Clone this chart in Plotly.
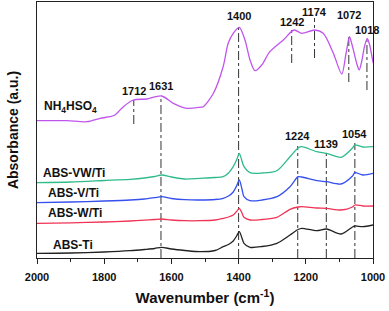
import plotly.graph_objects as go

# ---- data (wavenumber in cm-1, absorbance in arbitrary offset units) ----
nh4_w = [2000, 1911, 1851, 1812, 1783, 1768, 1743, 1713, 1674, 1629, 1594, 1554, 1515, 1505,
         1475, 1446, 1431, 1416, 1398, 1381, 1366, 1351, 1331, 1307, 1267, 1235, 1212, 1173,
         1148, 1118, 1093, 1080, 1070, 1063, 1056, 1048, 1041, 1034, 1025, 1017, 1010, 1004, 999]
nh4_a = [137.3, 137.3, 136.3, 139.7, 141.3, 143, 151.3, 158, 159, 162, 154.7, 149.7, 150.7, 151.3,
         164.7, 191.3, 214.7, 224.7, 230.7, 218, 198, 187.3, 193, 206.3, 218, 228, 224.7, 228,
         224.7, 204.7, 184, 205, 221.3, 214, 204.7, 194, 188, 196, 212, 219.7, 213, 203, 194.7]

abs_w = [2000, 1900, 1800, 1723, 1680, 1650, 1629, 1600, 1560, 1515, 1470, 1446, 1430, 1416,
         1406, 1398, 1390, 1384, 1366, 1330, 1286, 1247, 1223, 1212, 1167, 1138, 1095, 1061,
         1054, 1030, 1000]
vw_ti = [75.3, 76, 77.5, 78.7, 80, 81.5, 83, 81, 79, 79.7, 80.5, 81.3, 85, 91.3,
         98, 104.7, 97, 91.3, 85.3, 85, 87.3, 101.3, 110, 111.3, 106.3, 104.7, 100.7, 110,
         113, 111, 111.3]
v_ti = [55.3, 56, 57, 58, 59, 60.3, 61.3, 59.5, 58.3, 58, 58.5, 59.7, 62, 66,
        72, 78, 69, 61.3, 57.3, 58, 61.3, 71.3, 81.3, 81, 77.3, 76.3, 74, 82,
        85.3, 83, 84.7]
w_ti = [34.7, 35.2, 36, 37, 37.8, 38.5, 39, 38, 37.3, 37.3, 38, 39.7, 41, 43,
        46.5, 49.7, 45, 40.7, 38, 38.5, 40.7, 48.7, 51, 51.3, 50, 49.7, 48, 51,
        53, 52, 52]
ti = [4.7, 5, 6, 7.3, 8.5, 9.5, 10.7, 9, 7.5, 6.3, 7.5, 11.3, 13.5, 17,
      22, 26.3, 20, 14.7, 10.7, 11.5, 14.7, 23, 28.5, 29.7, 27.3, 29, 24, 31,
      32, 31.3, 33]

series_names = ["NH<sub>4</sub>HSO<sub>4</sub>", "ABS-VW/Ti", "ABS-V/Ti", "ABS-W/Ti", "ABS-Ti"]

# peak labels (wavenumber) and their annotation heights
peak_labels = [1712, 1631, 1400, 1242, 1174, 1072, 1018, 1224, 1139, 1054]
peak_label_y = [167, 172, 242, 236, 246, 243, 228, 122, 114, 124]
# dash-dot guide line extents (top, bottom)
guide_top = [158, 162, 231, 228, 240, 223, 220, 112, 108, 115]
guide_bot = [134, 0, 0, 195, 200, 176, 168, 0, 0, 0]

x_ticks = [2000, 1800, 1600, 1400, 1200, 1000]

# ---- figure ----
colors = ["#c055ee", "#30bb8a", "#3550ee", "#f03355", "#222222"]
fig = go.Figure()

# guide lines
for w, t, b in zip(peak_labels, guide_top, guide_bot):
    fig.add_trace(go.Scatter(x=[w, w], y=[b, t], mode="lines",
                             line=dict(color="#333333", width=1, dash="dashdot"),
                             hoverinfo="skip", showlegend=False))

for xs, ys, c in zip([nh4_w, abs_w, abs_w, abs_w, abs_w],
                     [nh4_a, vw_ti, v_ti, w_ti, ti], colors):
    fig.add_trace(go.Scatter(x=xs, y=ys, mode="lines", line=dict(color=c, width=1.3, shape="spline",
                                                                   smoothing=0.8),
                             showlegend=False))

annos = []
for w, y in zip(peak_labels, peak_label_y):
    annos.append(dict(x=w, y=y, text="<b>%d</b>" % w, showarrow=False,
                      font=dict(size=11, color="#111111", family="Liberation Sans")))

name_pos = [(1899, 151), (1890, 85.5), (1890, 64.7), (1887, 44.7), (1893, 13)]
for name, (x, y) in zip(series_names, name_pos):
    annos.append(dict(x=x, y=y, text="<b>%s</b>" % name, showarrow=False,
                      font=dict(size=12, color="#111111", family="Liberation Sans")))

fig.update_layout(
    width=389, height=311,
    margin=dict(l=37, r=16, t=2, b=53),
    paper_bgcolor="white", plot_bgcolor="white",
    font=dict(family="Liberation Sans", color="#111111"),
    annotations=annos,
    xaxis=dict(range=[2000, 1000], tickvals=x_ticks, ticks="outside", ticklen=5,
               tickwidth=1, tickcolor="#222", showline=True, linecolor="#222", linewidth=1,
               mirror=True, showgrid=False, zeroline=False, automargin=False,
               ticklabelstandoff=4,
               tickfont=dict(size=11, family="Liberation Sans", weight="bold"),
               minor=dict(dtick=100, ticks="outside", ticklen=3, tickcolor="#222", showgrid=False),
               title=dict(text="<b>Wavenumber (cm<sup>-1</sup>)</b>",
                          font=dict(size=15, family="Liberation Sans"), standoff=10)),
    yaxis=dict(range=[0, 256], showticklabels=False, ticks="", showline=True,
               linecolor="#222", linewidth=1, mirror=True, showgrid=False, zeroline=False,
               automargin=False,
               title=dict(text="<b>Absorbance (a.u.)</b>",
                          font=dict(size=14, family="Liberation Sans"), standoff=14)),
)

fig.write_html("out.html", config={"displayModeBar": False},
               post_script="document.body.style.margin='0';document.body.style.padding='0';")
